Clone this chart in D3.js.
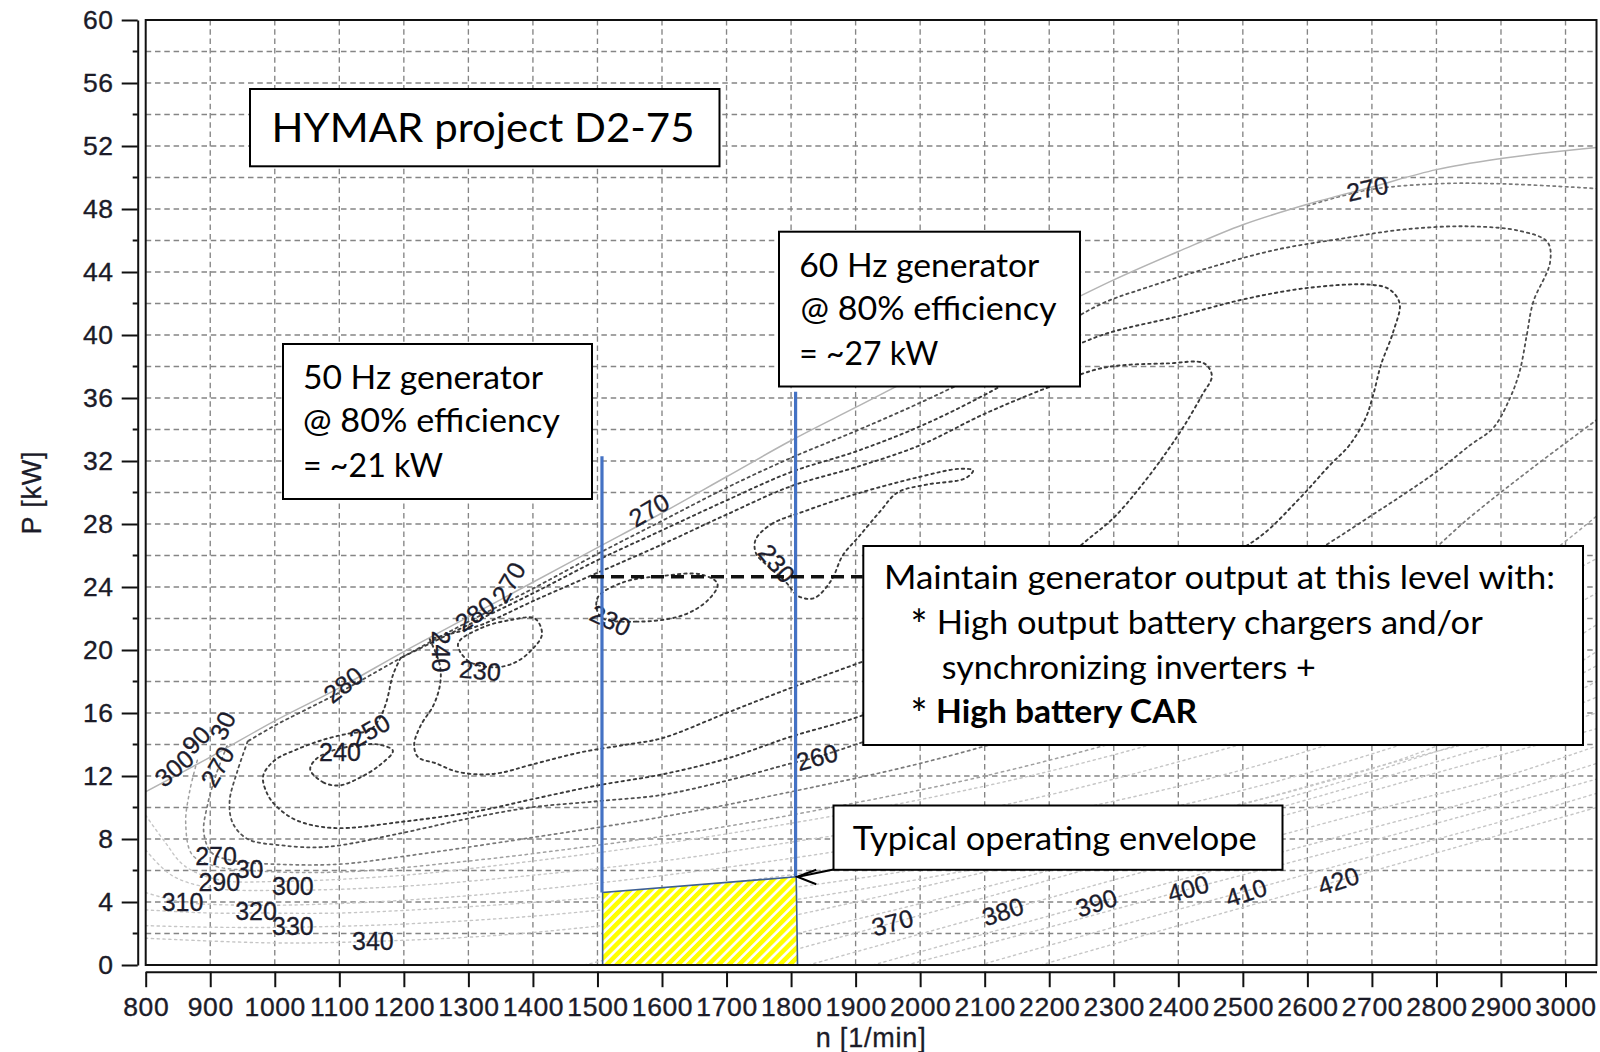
<!DOCTYPE html>
<html>
<head>
<meta charset="utf-8">
<script src="https://cdn.jsdelivr.net/npm/d3@7"></script>
<style>
  html, body { margin: 0; padding: 0; background: #ffffff; }
  svg { display: block; }
</style>
</head>
<body>
<svg id="chart" width="1600" height="1052"></svg>
<script>
// ---------------- data ----------------
const rpmTicks = [800, 900, 1000, 1100, 1200, 1300, 1400, 1500, 1600, 1700, 1800, 1900,
                  2000, 2100, 2200, 2300, 2400, 2500, 2600, 2700, 2800, 2900, 3000];
const powerTicks = [0, 4, 8, 12, 16, 20, 24, 28, 32, 36, 40, 44, 48, 52, 56, 60];
const powerMinorTicks = [2, 6, 10, 14, 18, 22, 26, 30, 34, 38, 42, 46, 50, 54, 58];
const gridRpm = rpmTicks.slice(1);
const gridPower = [2, 4, 6, 8, 10, 12, 14, 16, 18, 20, 22, 24, 26, 28, 30, 32, 34, 36, 38,
                   40, 42, 44, 46, 48, 50, 52, 54, 56, 58];
const rpmDomain = [800, 3048];
const powerDomain = [0, 60];

// full-load power curve [n (1/min), P (kW)]
const fullLoad = [[800,11.0],[900,13.2],[1000,15.5],[1100,17.6],[1200,19.9],[1300,22.1],[1400,24.3],
  [1500,26.5],[1600,28.7],[1700,31.0],[1800,33.3],[1900,35.4],[2000,37.5],[2100,39.5],[2200,41.5],
  [2300,43.5],[2400,45.3],[2500,47.0],[2600,48.3],[2700,49.4],[2800,50.5],[2900,51.2],[3048,51.9]];

// BSFC iso-lines, g/kWh
const bsfc230a = [[1284,20.4],[1320,21.4],[1365,21.9],[1403,22.0],[1414,21.0],[1398,20.0],[1372,19.2],
  [1340,18.9],[1300,19.3]];
const bsfc230b = [[1505,22.1],[1560,21.8],[1632,22.2],[1672,23.2],[1686,24.2],[1660,24.8],[1600,24.7],
  [1540,24.3],[1500,23.3]];
const bsfc230c = [[1745,27.0],[1770,28.0],[1820,28.8],[1900,29.9],[2000,31.0],[2060,31.5],[2082,31.4],
  [2070,30.9],[2010,30.5],[1965,30.0],[1938,28.8],[1905,27.2],[1880,26.0],[1862,24.4],[1836,23.3],
  [1812,23.4],[1792,24.3],[1765,25.3],[1746,26.1]];
const bsfc240a = [[1055,12.4],[1075,11.6],[1100,11.4],[1132,11.9],[1163,12.7],[1183,13.6],[1160,14.0],
  [1120,13.9],[1082,13.5],[1062,13.0]];
const bsfc240 = [[1240,20.7],[1256,19.0],[1256,17.8],[1246,16.5],[1226,15.2],[1216,14.0],[1222,13.2],
  [1250,12.8],[1280,12.3],[1318,12.1],[1350,12.2],[1396,12.7],[1474,13.5],[1546,14.0],[1600,14.4],
  [1700,16.0],[1800,17.6],[1900,19.1],[2000,20.6],[2100,22.4],[2200,24.6],[2248,26.6],[2300,28.4],
  [2346,30.6],[2384,32.7],[2410,34.3],[2437,36.2],[2452,37.4],[2440,38.2],[2385,38.2],[2282,37.9],
  [2200,36.7],[2100,35.0],[2000,33.0],[1900,31.6],[1800,30.4],[1700,28.6],[1600,26.7],[1500,24.9],
  [1400,23.1],[1320,21.6],[1270,21.0],[1240,20.7]];
const bsfc250 = [[1195,19.5],[1183,18.4],[1173,16.7],[1163,15.7],[1147,14.9],[1115,14.7],[1075,14.3],
  [1035,13.7],[1000,13.0],[982,12.0],[988,10.9],[1002,10.1],[1033,9.2],[1090,8.7],[1199,9.1],[1318,9.8],
  [1396,10.5],[1500,11.4],[1600,12.1],[1700,13.1],[1800,14.5],[1900,15.7],[2000,17.3],[2200,20.8],
  [2400,24.5],[2520,27.0],[2585,29.5],[2634,31.7],[2665,33.0],[2690,34.7],[2702,36.2],[2714,38.1],
  [2733,40.2],[2743,42.0],[2727,42.9],[2696,43.2],[2603,43.0],[2505,42.3],[2401,41.2],[2282,40.0],
  [2200,38.5],[2100,36.2],[2000,34.2],[1900,32.6],[1800,31.3],[1700,29.5],[1600,27.6],[1500,25.7],
  [1400,23.6],[1300,21.6],[1240,20.4],[1195,19.5]];
const bsfc260 = [[958,14.2],[942,12.3],[930,10.4],[935,9.0],[958,8.0],[1010,7.6],[1080,7.5],[1199,8.4],
  [1300,9.3],[1396,10.0],[1500,10.4],[1600,10.8],[1700,11.7],[1800,12.8],[1840,13.2],[1900,14.0],
  [2000,15.4],[2200,18.5],[2400,21.7],[2560,25.0],[2634,26.8],[2694,28.4],[2750,29.9],[2803,31.4],
  [2852,33.0],[2888,34.1],[2914,36.0],[2929,37.7],[2940,40.0],[2950,42.1],[2976,44.6],[2972,45.9],
  [2930,46.6],[2850,46.9],[2750,46.7],[2650,46.1],[2550,45.4],[2450,44.3],[2350,43.0],[2282,42.0],
  [2200,40.1],[2100,37.7],[2000,35.7],[1900,33.9],[1800,32.2],[1700,30.3],[1600,28.2],[1500,26.1],
  [1400,23.9],[1300,21.8],[1200,19.6],[1100,17.3],[1000,15.2],[958,14.2]];
const bsfc270 = [[926,13.9],[910,12.2],[896,10.2],[890,8.4],[903,7.1],[940,6.6],[1000,6.4],[1100,6.4],
  [1200,6.9],[1400,8.1],[1600,9.4],[1800,11.0],[2000,12.8],[2200,15.1],[2400,17.8],[2600,21.0],
  [2750,24.8],[2851,28.4],[2950,31.6],[3048,34.6]];
const bsfc270b = [[2600,48.2],[2693,49.2],[2800,49.6],[2900,49.6],[3048,49.3]];
const bsfc280 = [[880,13.0],[868,11.0],[862,9.0],[872,7.0],[905,6.3],[961,6.0],[1100,5.9],[1300,6.6],
  [1500,7.6],[1700,8.8],[1900,10.3],[2100,12.0],[2300,14.1],[2500,16.6],[2700,19.8],[2900,23.9],[3048,28.5]];
const bsfc290 = [[800,9.5],[830,7.8],[860,6.3],[914,5.4],[1000,5.3],[1200,5.7],[1400,6.6],[1600,7.7],
  [1800,9.0],[2000,10.5],[2200,12.3],[2400,14.5],[2600,17.2],[2800,20.6],[3048,25.8]];
const bsfc300 = [[800,7.3],[840,5.7],[900,4.9],[1028,4.75],[1200,5.0],[1400,5.7],[1600,6.6],[1800,7.8],
  [2000,9.1],[2200,10.8],[2400,12.9],[2600,15.3],[2800,18.4],[3048,23.6]];
const bsfc310 = [[800,4.6],[857,4.0],[950,3.8],[1100,3.9],[1300,4.4],[1500,5.2],[1700,6.2],[1900,7.4],
  [2100,8.8],[2300,10.4],[2500,12.4],[2700,14.9],[2900,18.0],[3048,21.6]];
const bsfc320 = [[800,3.5],[900,3.3],[971,3.3],[1100,3.3],[1300,3.7],[1500,4.3],[1700,5.2],[1900,6.3],
  [2100,7.6],[2300,9.2],[2500,11.1],[2700,13.4],[2900,16.3],[3048,19.9]];
const bsfc330 = [[800,2.5],[900,2.4],[1028,2.4],[1200,2.6],[1400,3.1],[1600,3.9],[1800,4.9],[2000,6.1],
  [2200,7.5],[2400,9.3],[2600,11.3],[2800,13.9],[3048,19.0]];
const bsfc340 = [[800,1.7],[1000,1.4],[1152,1.5],[1350,1.9],[1550,2.7],[1750,3.8],[1950,5.1],[2150,6.6],
  [2350,8.3],[2550,10.4],[2750,12.9],[2900,15.0],[3048,18.0]];
const bsfc350 = [[1480,0.0],[1700,2.2],[1900,4.0],[2100,5.9],[2300,8.0],[2500,10.2],[2700,12.5],
  [2900,14.7],[3048,17.0]];
const bsfc360 = [[1610,0.0],[1800,1.9],[2000,3.9],[2200,6.0],[2400,8.2],[2600,10.5],[2800,12.9],[3048,16.0]];
const bsfc370 = [[1720,0.0],[1955,2.65],[2200,5.4],[2400,7.7],[2600,9.9],[2800,12.2],[3048,15.0]];
const bsfc380 = [[1827,0.0],[2130,3.45],[2300,5.4],[2500,7.6],[2700,9.8],[2900,11.9],[3048,13.9]];
const bsfc390 = [[1927,0.0],[2273,3.95],[2500,6.5],[2700,8.7],[2900,10.9],[3048,12.8]];
const bsfc400 = [[1979,0.0],[2200,2.4],[2415,4.8],[2600,6.8],[2800,9.0],[3048,11.8]];
const bsfc410 = [[2093,0.0],[2300,2.4],[2505,4.7],[2700,6.9],[2900,9.1],[3048,10.9]];
const bsfc420 = [[2187,0.0],[2400,2.5],[2648,5.35],[2850,7.7],[3048,10.0]];

// level, points, closed ring?
const isoLines = [
  [420, bsfc420, false], [410, bsfc410, false], [400, bsfc400, false], [390, bsfc390, false],
  [380, bsfc380, false], [370, bsfc370, false], [360, bsfc360, false], [350, bsfc350, false],
  [340, bsfc340, false], [330, bsfc330, false], [320, bsfc320, false], [310, bsfc310, false],
  [300, bsfc300, false], [290, bsfc290, false], [280, bsfc280, false], [270, bsfc270, false],
  [270, bsfc270b, false], [260, bsfc260, false], [250, bsfc250, false], [240, bsfc240, false],
  [240, bsfc240a, true], [230, bsfc230a, true], [230, bsfc230b, true], [230, bsfc230c, true]
];

// contour labels: text, n, P, angle (deg)
const isoLabels = [
  ["270", 2693, 49.3, -12], ["270", 1580, 28.9, -30], ["280", 1106, 17.8, -38], ["280", 1310, 22.3, -35],
  ["270", 1362, 24.3, -60], ["240", 1258, 19.9, 90], ["230", 1318, 18.7, 5], ["250", 1147, 14.9, -30],
  ["240", 1101, 13.5, 0], ["230", 1520, 21.9, 25], ["230", 1778, 25.5, 50], ["260", 1840, 13.2, -15],
  ["300", 844, 12.5, -40], ["90", 878, 14.3, -45], ["30", 919, 15.2, -65], ["270", 911, 12.6, -60],
  ["270", 909, 6.9, 0], ["290", 914, 5.3, 0], ["30", 961, 6.1, 0], ["310", 857, 4.0, 0],
  ["320", 971, 3.4, 0], ["300", 1028, 5.0, 0], ["330", 1028, 2.5, 0], ["340", 1152, 1.5, 0],
  ["370", 1957, 2.7, -15], ["380", 2128, 3.4, -18], ["390", 2273, 3.95, -18], ["400", 2415, 4.85, -16],
  ["410", 2505, 4.6, -18], ["420", 2648, 5.35, -18]
];

// operating envelope and generator speeds
const envelope = [[1508, 0.0], [1508, 4.6], [1808, 5.6], [1810, 0.0]];
const generatorSpeeds = [{ n: 1507, top: 32.3 }, { n: 1807, top: 36.4 }];
const holdPower = { p: 24.65, from: 1490, to: 1911 };

const notes = {
  title: "HYMAR project D2-75",
  gen50: ["50 Hz generator", "@ 80% efficiency", "= ~21 kW"],
  gen60: ["60 Hz generator", "@ 80% efficiency", "= ~27 kW"],
  hold: ["Maintain generator output at this level with:", "High output battery chargers and/or",
         "synchronizing inverters +", "High battery CAR"],
  envelope: "Typical operating envelope"
};

// ---------------- layout ----------------
const plot = { left: 145.7, right: 1596.5, top: 20, bottom: 965 };
const svg = d3.select("#chart");
const x = d3.scaleLinear().domain(rpmDomain).range([plot.left, plot.right]);
const y = d3.scaleLinear().domain(powerDomain).range([plot.bottom, plot.top]);

const defs = svg.append("defs");
defs.append("clipPath").attr("id", "plotClip").append("rect")
  .attr("x", plot.left).attr("y", plot.top)
  .attr("width", plot.right - plot.left).attr("height", plot.bottom - plot.top);
const hatch = defs.append("pattern").attr("id", "hatch")
  .attr("patternUnits", "userSpaceOnUse").attr("width", 7.2).attr("height", 7.2)
  .attr("patternTransform", "rotate(45)");
hatch.append("rect").attr("width", 7.2).attr("height", 7.2).attr("fill", "#ffffff");
hatch.append("rect").attr("width", 4.6).attr("height", 7.2).attr("fill", "#ffff00");

// grid
const grid = svg.append("g").attr("stroke", "#858585").attr("stroke-width", 1.35)
  .attr("stroke-dasharray", "5.5,3.8");
grid.selectAll("line.v").data(gridRpm).join("line").attr("class", "v")
  .attr("x1", d => x(d)).attr("x2", d => x(d)).attr("y1", plot.top).attr("y2", plot.bottom);
grid.selectAll("line.h").data(gridPower).join("line").attr("class", "h")
  .attr("x1", plot.left).attr("x2", plot.right).attr("y1", d => y(d)).attr("y2", d => y(d));

// iso-lines
function isoStyle(level) {
  if (level <= 250) return { c: "#3a3a3a", w: 1.9, d: "2.4,3.8" };
  if (level === 260) return { c: "#4e4e4e", w: 1.8, d: "2.4,3.8" };
  if (level === 270) return { c: "#7a7a7a", w: 1.7, d: "2.4,3.8" };
  if (level === 280) return { c: "#a0a0a0", w: 1.5, d: "2.4,3.8" };
  return { c: "#c6c6c6", w: 1.4, d: "2.2,3.6" };
}
const contourG = svg.append("g").attr("clip-path", "url(#plotClip)").attr("fill", "none");
isoLines.forEach(([level, pts, closed]) => {
  const s = isoStyle(level);
  const gen = d3.line().x(d => x(d[0])).y(d => y(d[1]))
    .curve(closed ? d3.curveCatmullRomClosed.alpha(0.5) : d3.curveCatmullRom.alpha(0.5));
  contourG.append("path").attr("d", gen(pts))
    .attr("stroke", s.c).attr("stroke-width", s.w).attr("stroke-dasharray", s.d)
    .attr("stroke-linecap", "round");
});
contourG.append("path")
  .attr("d", d3.line().x(d => x(d[0])).y(d => y(d[1])).curve(d3.curveMonotoneX)(fullLoad))
  .attr("stroke", "#b4b4b4").attr("stroke-width", 1.5);

// contour labels
svg.append("g").attr("font-family", "'Liberation Sans', Arial, sans-serif").attr("font-size", 25)
  .attr("fill", "#1c1c2c").attr("stroke", "#1c1c2c").attr("stroke-width", 0.3)
  .attr("text-anchor", "middle")
  .selectAll("text").data(isoLabels).join("text")
  .attr("transform", d => `translate(${x(d[1])},${y(d[2])}) rotate(${d[3]})`)
  .attr("dy", "0.36em").text(d => d[0]);

// operating envelope
svg.append("path")
  .attr("d", d3.line().x(d => x(d[0])).y(d => y(d[1])).curve(d3.curveLinearClosed)(envelope))
  .attr("fill", "url(#hatch)").attr("stroke", "#3d5f93").attr("stroke-width", 1.6);

// generator speed lines
svg.append("g").selectAll("line").data(generatorSpeeds).join("line")
  .attr("x1", d => x(d.n)).attr("x2", d => x(d.n))
  .attr("y1", d => y(d.top)).attr("y2", (d, i) => y(i === 0 ? envelope[1][1] : envelope[2][1]))
  .attr("stroke", "#4472c4").attr("stroke-width", 3.2);

// constant-output dashed line
svg.append("line").attr("x1", x(holdPower.from)).attr("x2", x(holdPower.to))
  .attr("y1", y(holdPower.p)).attr("y2", y(holdPower.p))
  .attr("stroke", "#111").attr("stroke-width", 3.3).attr("stroke-dasharray", "13,7");

// annotation boxes
const noteFont = "Lato, 'Open Sans', sans-serif";
function box(x0, y0, x1, y1) {
  svg.append("rect").attr("x", x0).attr("y", y0).attr("width", x1 - x0).attr("height", y1 - y0)
    .attr("fill", "#fff").attr("stroke", "#000").attr("stroke-width", 2);
}
function note(str, tx, ty, size, width, weight) {
  return svg.append("text").attr("x", tx).attr("y", ty).attr("font-family", noteFont)
    .attr("font-size", size).attr("font-weight", weight || 400).attr("fill", "#000")
    .attr("textLength", width).attr("lengthAdjust", "spacingAndGlyphs").text(str);
}

box(250, 89, 719.5, 166.3);
note(notes.title, 271.5, 141.7, 40, 423);

box(283, 344, 592, 499);
note(notes.gen50[0], 303, 389, 32.5, 240);
note(notes.gen50[1], 303, 431.8, 32.5, 257);
note(notes.gen50[2], 303, 477.3, 32.5, 140);

box(779, 231.7, 1080, 386.5);
note(notes.gen60[0], 799.3, 276.7, 32.5, 240);
note(notes.gen60[1], 800.5, 319.6, 32.5, 256);
note(notes.gen60[2], 799.3, 365.2, 32.5, 139);

box(863.3, 546, 1583, 745);
note(notes.hold[0], 884, 589.3, 32.5, 671);
note("*", 910.5, 640, 42, 17);
note(notes.hold[1], 936.7, 634.2, 32.5, 546);
note(notes.hold[2], 941.7, 679, 32.5, 374);
note("*", 910.5, 729, 42, 17);
note(notes.hold[3], 936, 723, 32.5, 261, 700);

box(833.5, 805.5, 1282.5, 869.8);
note(notes.envelope, 852.7, 850, 32.5, 404);

// arrow from the envelope note to the envelope corner
const tip = [x(envelope[2][0]), y(envelope[2][1])];
svg.append("line").attr("x1", 833.5).attr("y1", 869.5).attr("x2", tip[0] + 2).attr("y2", tip[1])
  .attr("stroke", "#000").attr("stroke-width", 2);
svg.append("path")
  .attr("d", `M${tip[0] + 20},${tip[1] - 7} L${tip[0] + 1},${tip[1]} L${tip[0] + 20},${tip[1] + 7.5}`)
  .attr("fill", "none").attr("stroke", "#000").attr("stroke-width", 2);

// plot frame
svg.append("rect").attr("x", plot.left).attr("y", plot.top)
  .attr("width", plot.right - plot.left).attr("height", plot.bottom - plot.top)
  .attr("fill", "none").attr("stroke", "#111").attr("stroke-width", 2);

// axes
const tickFont = "'Liberation Sans', Arial, sans-serif";
const xAxis = svg.append("g").attr("transform", `translate(0,${plot.bottom + 6.7})`)
  .call(d3.axisBottom(x).tickValues(rpmTicks).tickFormat(d3.format("d"))
    .tickSize(15.5).tickSizeOuter(0).tickPadding(10));
const yAxis = svg.append("g").attr("transform", `translate(${plot.left - 8},0)`)
  .call(d3.axisLeft(y).tickValues(powerTicks).tickFormat(d3.format("d"))
    .tickSize(16).tickSizeOuter(0).tickPadding(8));
yAxis.selectAll("line.minor").data(powerMinorTicks).join("line").attr("class", "minor")
  .attr("x1", -5).attr("x2", 0).attr("y1", d => y(d)).attr("y2", d => y(d));
[xAxis, yAxis].forEach(a => {
  a.selectAll("path.domain").attr("stroke", "#111").attr("stroke-width", 2);
  a.selectAll("line").attr("stroke", "#111").attr("stroke-width", 2);
  a.selectAll("text").attr("font-family", tickFont).attr("font-size", 26.5)
    .attr("letter-spacing", 0.6).attr("fill", "#1b1b28")
    .attr("stroke", "#1b1b28").attr("stroke-width", 0.35);
});

// axis titles
svg.append("text").attr("x", (plot.left + plot.right) / 2).attr("y", 1047)
  .attr("text-anchor", "middle").attr("font-family", tickFont).attr("font-size", 27)
  .attr("letter-spacing", 0.8).attr("fill", "#1b1b28").attr("stroke", "#1b1b28")
  .attr("stroke-width", 0.3).text("n [1/min]");
svg.append("text").attr("transform", `translate(41,${(plot.top + plot.bottom) / 2}) rotate(-90)`)
  .attr("text-anchor", "middle").attr("font-family", tickFont).attr("font-size", 27)
  .attr("letter-spacing", 0.8).attr("fill", "#1b1b28").attr("stroke", "#1b1b28")
  .attr("stroke-width", 0.3).text("P [kW]");
</script>
</body>
</html>
